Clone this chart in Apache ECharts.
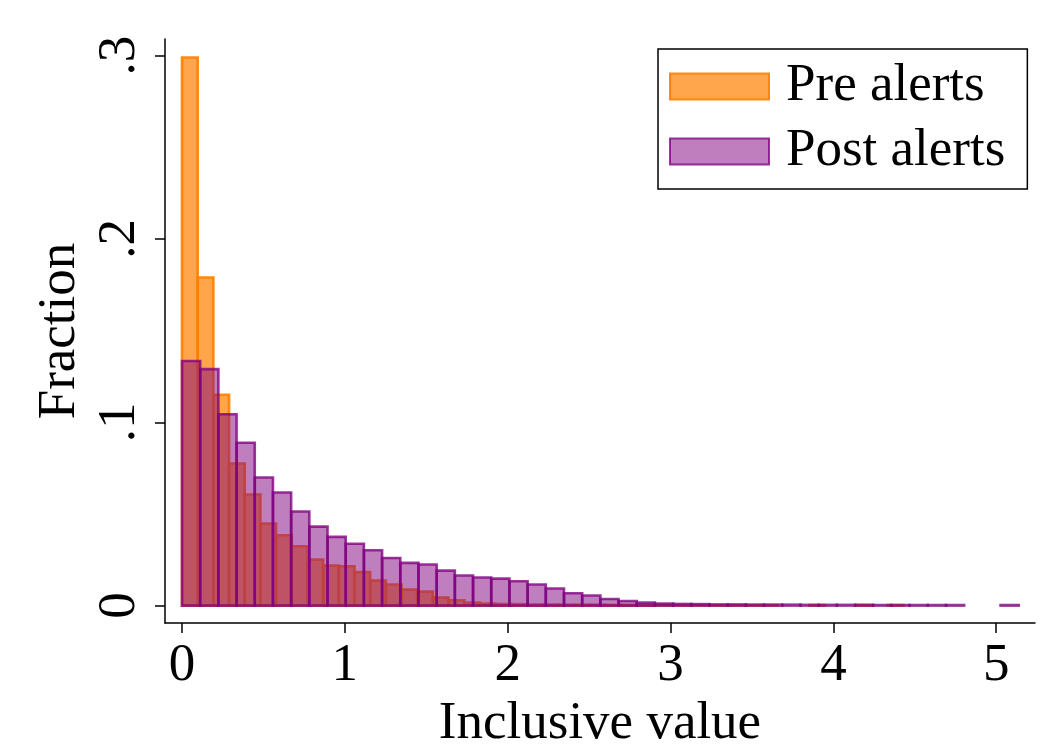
<!DOCTYPE html>
<html>
<head>
<meta charset="utf-8">
<script src="https://cdn.jsdelivr.net/npm/echarts@6/dist/echarts.min.js"></script>
<style>
html,body{margin:0;padding:0;background:#fff;}
#chart{width:1047px;height:745px;}
</style>
</head>
<body>
<div id="chart"></div>
<script>
// Histogram bin layout (both start at 0, 46 bins each)
const PRE_BIN_START = 0;
const PRE_BIN_WIDTH = 0.0963;
const POST_BIN_START = 0;
const POST_BIN_WIDTH = 0.1117;

// Fraction per bin
const preValues = [
  0.299, 0.179, 0.115, 0.0775, 0.0606, 0.0448, 0.0384, 0.0324, 0.0251, 0.0218,
  0.0215, 0.0183, 0.0136, 0.0115, 0.0087, 0.0076, 0.0044, 0.0029, 0.0016, 0.0011,
  0.0009, 0.0008, 0.0006, 0.0006, 0.0005, 0.0005, 0.0005, 0.0004, 0.0004, 0.0004,
  0.0004, 0.0003, 0.0003, 0.0003, 0.0003, 0.0003, 0.0003, 0.0003, 0, 0,
  0.0003, 0, 0, 0.0003, 0, 0.0003
];
const postValues = [
  0.1334, 0.129, 0.1044, 0.0888, 0.0699, 0.0617, 0.0513, 0.0431, 0.0375, 0.0337,
  0.0302, 0.026, 0.0233, 0.0224, 0.0191, 0.0164, 0.0153, 0.0147, 0.0133, 0.0115,
  0.0093, 0.0067, 0.0055, 0.0036, 0.0025, 0.0016, 0.0011, 0.0009, 0.0008, 0.0006,
  0.0006, 0.0005, 0.0005, 0.0005, 0.0004, 0.0004, 0.0004, 0.0004, 0.0003, 0.0003,
  0.0003, 0.0003, 0.0003, 0, 0, 0.0003
];
const seriesNames = ['Pre alerts', 'Post alerts'];
const xTicks = [0, 1, 2, 3, 4, 5];
const yTicks = [0, 0.1, 0.2, 0.3];
const xTitle = 'Inclusive value';
const yTitle = 'Fraction';

function bins(values, start, width) {
  const out = [];
  values.forEach((v, i) => {
    if (v > 0) out.push([start + i * width, start + (i + 1) * width, v]);
  });
  return out;
}

const PRE_FILL = 'rgba(255,128,0,0.7)';
const PRE_STROKE = 'rgba(255,128,0,0.9)';
const POST_FILL = 'rgba(128,0,128,0.5)';
const POST_STROKE = 'rgba(128,0,128,0.78)';
const FONT = 'Liberation Serif';
const FS = 53;

function makeRender(fill, stroke) {
  return function (params, api) {
    const x0 = api.value(0), x1 = api.value(1), y = api.value(2);
    const p0 = api.coord([x0, y]);
    const p1 = api.coord([x1, 0]);
    return {
      type: 'rect',
      shape: { x: p0[0], y: p0[1], width: p1[0] - p0[0], height: p1[1] - p0[1] },
      style: { fill: fill, stroke: stroke, lineWidth: 2.6 }
    };
  };
}

const chart = echarts.init(document.getElementById('chart'), null, { renderer: 'canvas' });
chart.setOption({
  backgroundColor: '#fff',
  animation: false,
  grid: { left: 165, top: 39, right: 12, bottom: 122, containLabel: false, outerBoundsMode: 'none' },
  legend: {
    orient: 'vertical',
    left: 658,
    top: 49,
    padding: [11, 22, 11, 11],
    itemWidth: 99,
    itemHeight: 26,
    itemGap: 12,
    borderColor: '#000',
    borderWidth: 1.5,
    backgroundColor: '#fff',
    textStyle: { fontSize: FS, fontFamily: FONT, color: '#000', lineHeight: 48, padding: [4, 0, 0, 12] },
    data: [
      { name: seriesNames[0], icon: 'rect', itemStyle: { color: PRE_FILL, borderColor: PRE_STROKE, borderWidth: 2 } },
      { name: seriesNames[1], icon: 'rect', itemStyle: { color: POST_FILL, borderColor: POST_STROKE, borderWidth: 2 } }
    ]
  },
  xAxis: {
    type: 'value',
    min: -0.1044,
    max: 5.238,
    name: xTitle,
    nameLocation: 'middle',
    nameGap: 72,
    nameTextStyle: { fontSize: FS, fontFamily: FONT, color: '#000' },
    axisLine: { onZero: false, lineStyle: { color: '#000', width: 1.5 } },
    axisTick: { show: true, length: 10, lineStyle: { color: '#000', width: 1.5 }, customValues: xTicks },
    axisLabel: { fontSize: FS, fontFamily: FONT, color: '#000', margin: 17, customValues: xTicks,
      formatter: v => String(v) },
    splitLine: { show: false }
  },
  yAxis: {
    type: 'value',
    min: -0.0095,
    max: 0.3091,
    name: yTitle,
    nameLocation: 'middle',
    nameGap: 73,
    nameRotate: 90,
    nameTextStyle: { fontSize: FS, fontFamily: FONT, color: '#000' },
    axisLine: { onZero: false, lineStyle: { color: '#000', width: 1.5 } },
    axisTick: { show: true, length: 10, lineStyle: { color: '#000', width: 1.5 }, customValues: yTicks },
    axisLabel: { fontSize: FS, fontFamily: FONT, color: '#000', margin: 18, rotate: 90, customValues: yTicks,
      formatter: v => (v === 0 ? '0' : String(Math.round(v * 10) / 10).replace(/^0\./, '.')) },
    splitLine: { show: false }
  },
  series: [
    {
      name: seriesNames[0], type: 'custom',
      itemStyle: { color: PRE_FILL, borderColor: PRE_STROKE, borderWidth: 2 },
      renderItem: makeRender(PRE_FILL, PRE_STROKE),
      encode: { x: [0, 1], y: 2 },
      data: bins(preValues, PRE_BIN_START, PRE_BIN_WIDTH)
    },
    {
      name: seriesNames[1], type: 'custom',
      itemStyle: { color: POST_FILL, borderColor: POST_STROKE, borderWidth: 2 },
      renderItem: makeRender(POST_FILL, POST_STROKE),
      encode: { x: [0, 1], y: 2 },
      data: bins(postValues, POST_BIN_START, POST_BIN_WIDTH)
    }
  ]
});
</script>
</body>
</html>
